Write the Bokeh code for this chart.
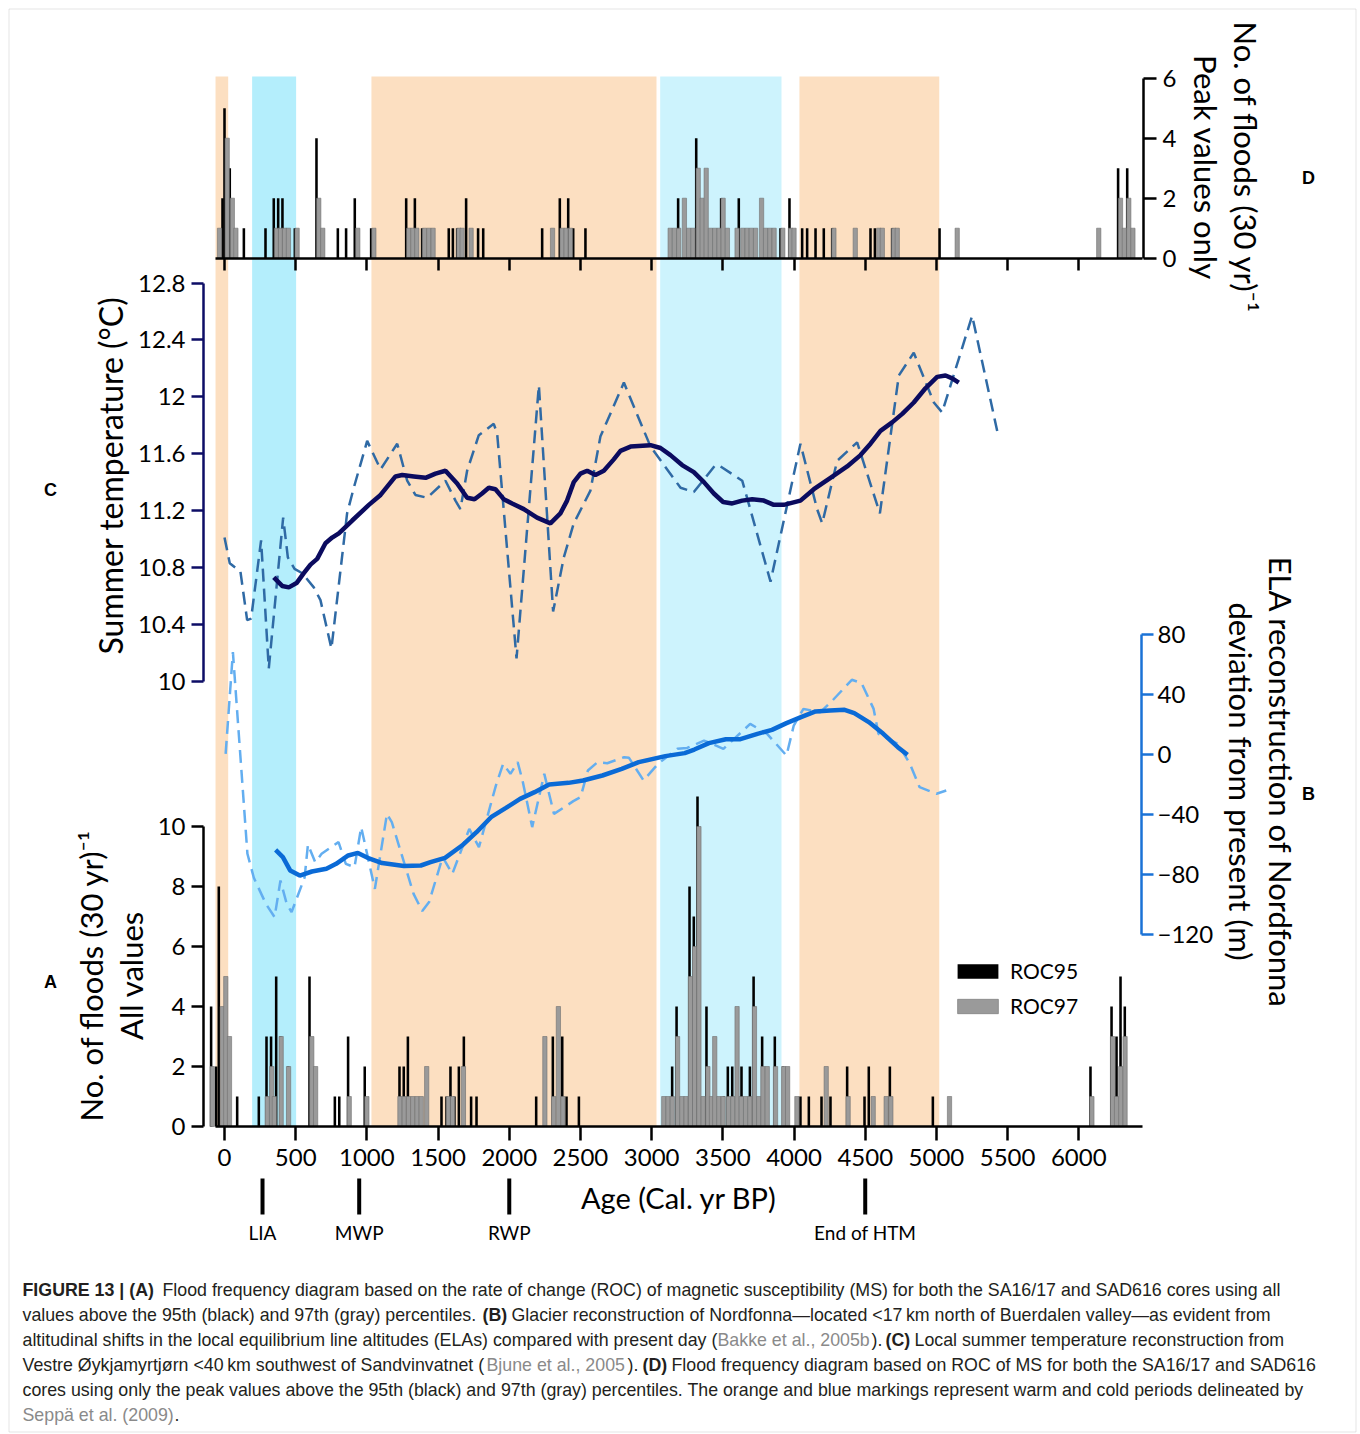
import math
from bokeh.plotting import figure
from bokeh.models import (Range1d, LinearAxis, FixedTicker, CustomJSTickFormatter,
                          ColumnDataSource, Label, Legend, LegendItem, BoxAnnotation)
from bokeh.core.properties import value
from bokeh.embed import file_html
from bokeh.resources import INLINE

# ---------------- data ----------------
# warm (orange) and cold (blue) periods, cal. yr BP
warm_start = [-63, 1032, 4038]
warm_end = [26, 3034, 5020]
cold_start = [194, 3060]
cold_end = [503, 3912]

# Panel A: flood frequency, all values (per 30 yr)
A95_age = [-94, -59, -40, 89, 241, 295, 327, 363, 393, 447, 597, 775, 806, 868, 985,
           1229, 1259, 1288, 1524, 1559, 1587, 1615, 1646, 1681, 1732, 1770, 2189, 2306,
           2372, 2402, 2489, 3144, 3175, 3266, 3296, 3322, 3385, 3507, 3535, 3566, 3631,
           3690, 3716, 3776, 3865, 3923, 4045, 4104, 4193, 4256, 4373, 4495, 4525, 4673,
           4975, 6082, 6230, 6265, 6293, 6323]
A95_n = [4, 2, 8, 1, 1, 3, 3, 5, 3, 2, 5, 1, 1, 3, 2,
         2, 2, 3, 1, 1, 2, 1, 2, 3, 1, 1, 1, 3,
         3, 1, 1, 2, 4, 8, 7, 11, 4, 1, 2, 2, 2,
         2, 5, 3, 3, 2, 1, 1, 1, 1, 2, 1, 2, 2,
         1, 2, 4, 3, 5, 4]
A97_age = [-86, -15, 9, 35, 300, 332, 350, 398, 450, 613, 640, 876, 1000, 1232, 1262,
           1292, 1322, 1352, 1382, 1420, 1572, 1602, 1678, 2250, 2312, 2345, 2377, 3085,
           3115, 3145, 3182, 3212, 3242, 3272, 3302, 3332, 3362, 3395, 3420, 3443, 3472,
           3502, 3540, 3570, 3600, 3630, 3660, 3690, 3722, 3752, 3782, 3812, 3870, 3928,
           3955, 4020, 4226, 4380, 4556, 4647, 4680, 5092, 6092, 6237, 6265, 6295, 6325]
A97_n = [2, 4, 5, 3, 1, 2, 1, 3, 2, 3, 2, 1, 1, 1, 1,
         1, 1, 1, 1, 2, 1, 1, 2, 3, 1, 4, 1, 1,
         1, 1, 3, 1, 1, 5, 6, 10, 1, 2, 1, 3, 1,
         1, 1, 1, 4, 1, 1, 1, 4, 1, 2, 2, 2, 2,
         2, 1, 2, 1, 1, 1, 1, 1, 1, 3, 1, 2, 3]

# Panel D: flood frequency, peak values only (per 30 yr)
D95_age = [-14, 0, 37, 136, 288, 346, 377, 407, 494, 646, 796, 854, 915, 1030, 1276,
           1337, 1388, 1575, 1604, 1634, 1697, 1781, 1817, 2231, 2355, 2414, 2449, 2535,
           3186, 3313, 3488, 3612, 3905, 3968, 4057, 4092, 4151, 4209, 4268, 4537, 4568,
           4689, 5022, 6276, 6340]
D95_n = [2, 5, 3, 1, 1, 2, 2, 2, 1, 4, 1, 1, 2, 1, 2,
         2, 1, 1, 1, 1, 2, 1, 1, 1, 2, 2, 1, 1,
         2, 4, 2, 2, 1, 2, 1, 1, 1, 1, 1, 1, 1,
         1, 1, 3, 3]
D97_age = [-35, 19, 55, 80, 365, 393, 421, 449, 510, 662, 690, 936, 1049, 1294, 1323,
           1351, 1404, 1435, 1465, 1646, 1669, 1732, 2304, 2371, 2399, 2430, 3130, 3160,
           3190, 3230, 3260, 3290, 3327, 3355, 3383, 3413, 3443, 3473, 3502, 3532, 3600,
           3640, 3670, 3700, 3730, 3772, 3800, 3830, 3860, 3921, 3975, 4000, 4280, 4430,
           4595, 4620, 4700, 4725, 5146, 6140, 6293, 6320, 6351, 6380]
D97_n = [1, 4, 2, 1, 1, 1, 1, 1, 1, 2, 1, 1, 1, 1, 1,
         1, 1, 1, 1, 1, 1, 1, 1, 1, 1, 1, 1, 1,
         1, 2, 1, 1, 3, 2, 3, 1, 1, 1, 2, 1, 1,
         1, 1, 1, 1, 2, 1, 1, 1, 1, 1, 1, 1, 1,
         1, 1, 1, 1, 1, 1, 2, 1, 2, 1]

# Panel C: summer temperature (deg C)
C_smooth_age = [346, 405, 452, 506, 557, 604, 651, 709, 756, 803, 897, 1014, 1096, 1201, 1248,
                1330, 1412, 1482, 1552, 1634, 1704, 1756, 1809, 1856, 1903, 1961, 2020, 2102,
                2195, 2289, 2359, 2406, 2453, 2500, 2547, 2605, 2664, 2734, 2781, 2852, 2992,
                3062, 3132, 3214, 3296, 3367, 3437, 3502, 3566, 3636, 3706, 3788, 3858, 3928,
                4045, 4139, 4256, 4373, 4467, 4537, 4607, 4689, 4760, 4841, 4923, 5005, 5064,
                5111, 5157]
C_smooth = [10.73, 10.67, 10.66, 10.69, 10.76, 10.82, 10.86, 10.97, 11.01, 11.04, 11.13, 11.24,
            11.31, 11.44, 11.45, 11.44, 11.43, 11.46, 11.48, 11.39, 11.29, 11.28, 11.32, 11.36,
            11.35, 11.28, 11.25, 11.21, 11.15, 11.11, 11.18, 11.27, 11.40, 11.46, 11.48, 11.45,
            11.48, 11.56, 11.62, 11.65, 11.66, 11.64, 11.59, 11.52, 11.47, 11.40, 11.32, 11.26,
            11.25, 11.27, 11.28, 11.27, 11.24, 11.24, 11.27, 11.35, 11.43, 11.51, 11.59, 11.67,
            11.76, 11.82, 11.88, 11.96, 12.06, 12.14, 12.15, 12.13, 12.10]
C_raw_age = [0, 37, 112, 159, 187, 257, 311, 412, 445, 492, 545, 627, 674, 751, 861, 908, 1002,
             1096, 1213, 1283, 1341, 1423, 1552, 1622, 1657, 1704, 1786, 1891, 1915, 2051, 2208,
             2308, 2383, 2453, 2570, 2640, 2805, 2992, 3203, 3296, 3448, 3484, 3636, 3659, 3835,
             4045, 4162, 4198, 4303, 4443, 4603, 4736, 4841, 4982, 5040, 5251, 5427]
C_raw = [11.01, 10.83, 10.77, 10.43, 10.44, 10.99, 10.09, 11.15, 10.87, 10.79, 10.76, 10.66,
         10.57, 10.23, 11.18, 11.36, 11.69, 11.49, 11.67, 11.41, 11.31, 11.29, 11.41, 11.27,
         11.21, 11.48, 11.73, 11.81, 11.74, 10.16, 12.08, 10.49, 10.87, 11.11, 11.34, 11.72,
         12.10, 11.65, 11.36, 11.33, 11.52, 11.51, 11.41, 11.33, 10.70, 11.67, 11.21, 11.11,
         11.55, 11.68, 11.18, 12.15, 12.31, 11.96, 11.89, 12.57, 11.76]

# Panel B: ELA deviation from present (m)
B_smooth_age = [359, 410, 461, 529, 614, 716, 784, 869, 937, 1005, 1107, 1260, 1379, 1447, 1549,
                1668, 1770, 1872, 1974, 2076, 2178, 2280, 2416, 2518, 2654, 2790, 2909, 3096,
                3232, 3300, 3402, 3521, 3623, 3743, 3845, 3947, 4049, 4151, 4253, 4355, 4423,
                4525, 4627, 4729, 4797]
B_smooth = [-63.6, -68.4, -77.3, -80.7, -78.0, -76.2, -72.9, -67.3, -65.6, -68.9, -72.4, -74.4,
            -74.0, -71.8, -68.9, -60.7, -51.8, -41.8, -35.8, -29.6, -25.1, -20.0, -18.9, -17.3,
            -14.0, -9.6, -5.1, -1.1, 0.9, 3.3, 7.6, 10.2, 10.2, 13.8, 16.4, 20.9, 24.9, 28.7,
            29.3, 29.8, 27.6, 21.6, 13.8, 4.9, -0.2]
B_raw_age = [8, 59, 161, 206, 291, 352, 393, 437, 471, 563, 586, 637, 682, 801, 852, 913, 960,
             1056, 1141, 1175, 1328, 1389, 1437, 1532, 1600, 1719, 1787, 1906, 1957, 2008, 2059,
             2093, 2161, 2246, 2314, 2450, 2501, 2552, 2620, 2688, 2807, 2841, 2943, 3045, 3181,
             3249, 3368, 3504, 3692, 3811, 3947, 3998, 4066, 4185, 4270, 4406, 4474, 4559, 4593,
             4729, 4814, 4882, 5001, 5069]
B_raw = [0.4, 68.2, -66.2, -82.2, -99.6, -108.4, -84.0, -99.6, -105.1, -81.8, -60.0, -71.8,
         -66.2, -58.4, -72.9, -75.1, -48.4, -89.6, -39.6, -45.1, -92.9, -104.4, -98.4, -68.4,
         -79.6, -49.6, -61.8, -20.7, -6.2, -12.9, -5.1, -17.3, -48.4, -12.9, -39.6, -31.1,
         -28.4, -10.7, -5.1, -5.8, -1.8, -2.2, -17.3, -6.2, 3.8, 4.4, 9.3, 3.8, 20.4, 13.8,
         -0.7, 19.3, 30.4, 28.2, 36.0, 49.8, 47.6, 30.4, 13.8, 7.1, -6.2, -21.8, -26.2, -24.0]

# climate periods marked under the age axis
period_names = ["LIA", "MWP", "RWP", "End of HTM"]
period_ages = [267, 946, 2000, 4500]

# tick values
age_ticks = list(range(0, 6001, 500))
A_ticks = [0, 2, 4, 6, 8, 10]
C_ticks = [10, 10.4, 10.8, 11.2, 11.6, 12, 12.4, 12.8]
B_ticks = [-120, -80, -40, 0, 40, 80]
D_ticks = [0, 2, 4, 6]

# ---------------- layout calibration (pixels) ----------------
W, H = 1360, 1434
PX0, PXYR = 224.0, 854.3 / 6000.0          # x pixel of age 0, pixels per year
PL, PR, PT = 215, 1142, 76                 # plotted area edges
A0, A_S = 1126.0, 30.0                     # panel A: zero pixel, px per flood
C10, C_S = 680.7, 142.2                    # panel C: 10 degC pixel, px per degC
B0, B_S = 754.0, 1.5                       # panel B: zero pixel, px per m
D0, D_S = 257.7, 30.0                      # panel D: zero pixel, px per flood


def px2x(px):
    return (px - PX0) / PXYR


def px2y(py):
    return (A0 - py) / A_S


# the frame covers the whole canvas; every axis sits at a fixed location
p = figure(width=W, height=H, title=None,
           x_range=Range1d(px2x(0), px2x(W)),
           y_range=Range1d(px2y(H), px2y(0)),
           x_axis_type=None, y_axis_type=None,
           output_backend="svg", toolbar_location=None,
           min_border_left=0, min_border_right=0, min_border_top=0, min_border_bottom=0,
           outline_line_color=None, background_fill_color="white",
           border_fill_color="white")

p.extra_y_ranges = {
    "C": Range1d(10 + (C10 - H) / C_S, 10 + C10 / C_S),
    "B": Range1d((B0 - H) / B_S, B0 / B_S),
    "D": Range1d((D0 - H) / D_S, D0 / D_S),
}

# ---------------- period bands ----------------
band_src = ColumnDataSource(dict(
    left=warm_start + cold_start,
    right=warm_end + cold_end,
    color=["#fcdfc1"] * len(warm_start) + ["#b4eefc", "#cdf3fd"],
))
p.quad(left="left", right="right", bottom=0, top=px2y(PT), source=band_src,
       fill_color="color", line_color=None)

# ---------------- bars ----------------
BLACK, GREY = "#000000", "#9a9a9a"
rA95 = p.vbar(x=A95_age, top=A95_n, bottom=0, width=18, fill_color=BLACK, line_color=None)
rA97 = p.vbar(x=A97_age, top=A97_n, bottom=0, width=30, fill_color=GREY,
              line_color="#707070", line_width=0.6)
p.vbar(x=D95_age, top=D95_n, bottom=0, width=18, fill_color=BLACK, line_color=None,
       y_range_name="D")
p.vbar(x=D97_age, top=D97_n, bottom=0, width=30, fill_color=GREY, line_color="#707070",
       line_width=0.6, y_range_name="D")

# ---------------- lines ----------------
p.line(C_raw_age, C_raw, y_range_name="C", line_color="#2f6aa5", line_width=2.5,
       line_dash="13 7")
p.line(C_smooth_age, C_smooth, y_range_name="C", line_color="#0b0b5f", line_width=4.5)
p.line(B_raw_age, B_raw, y_range_name="B", line_color="#63aef0", line_width=2.5,
       line_dash="13 7")
p.line(B_smooth_age, B_smooth, y_range_name="B", line_color="#0a6ad6", line_width=4.5)

# ---------------- period markers ----------------
per_src = ColumnDataSource(dict(age=period_ages, name=period_names))
p.segment(x0="age", x1="age", y0=px2y(1178), y1=px2y(1214), source=per_src,
          line_color="black", line_width=4)
p.text(x="age", y=px2y(1232), text="name", source=per_src, text_font=value("Lato"),
       text_font_size="19px", text_align="center", text_baseline="middle",
       text_color="black")


# ---------------- axes ----------------
def style_axis(ax, color, tick_out=12, standoff=6):
    ax.axis_line_color = color
    ax.axis_line_width = 2.5
    ax.major_tick_line_color = color
    ax.major_tick_line_width = 2.5
    ax.major_tick_out = tick_out
    ax.major_tick_in = 0
    ax.minor_tick_line_color = None
    ax.major_label_text_color = "black"
    ax.major_label_text_font = "Lato"
    ax.major_label_text_font_size = "24px"
    ax.major_label_standoff = standoff


x_bounds = (px2x(PL), px2x(PR))

ax_age = LinearAxis(ticker=FixedTicker(ticks=age_ticks), fixed_location=0, bounds=x_bounds,
                    axis_label="Age (Cal. yr BP)")
style_axis(ax_age, "black", tick_out=14, standoff=8)
ax_age.axis_label_text_font = "Lato"
ax_age.axis_label_text_font_size = "29px"
ax_age.axis_label_text_font_style = "normal"
ax_age.axis_label_text_color = "black"
ax_age.axis_label_standoff = 11
p.add_layout(ax_age, "below")

ax_dx = LinearAxis(ticker=FixedTicker(ticks=age_ticks), y_range_name="D", fixed_location=0,
                   bounds=x_bounds, formatter=CustomJSTickFormatter(code="return ''"))
style_axis(ax_dx, "black", tick_out=12)
p.add_layout(ax_dx, "below")

ax_A = LinearAxis(ticker=FixedTicker(ticks=A_ticks), bounds=(0, 10), fixed_location=px2x(203))
style_axis(ax_A, "black")
p.add_layout(ax_A, "left")

ax_C = LinearAxis(ticker=FixedTicker(ticks=C_ticks), y_range_name="C", bounds=(10, 12.8),
                  fixed_location=px2x(203),
                  formatter=CustomJSTickFormatter(code="return String(Math.round(tick*10)/10)"))
style_axis(ax_C, "#0d0d66")
p.add_layout(ax_C, "left")

ax_B = LinearAxis(ticker=FixedTicker(ticks=B_ticks), y_range_name="B", bounds=(-120, 80),
                  fixed_location=px2x(1141))
style_axis(ax_B, "#1a72d6", standoff=4)
p.add_layout(ax_B, "right")

ax_D = LinearAxis(ticker=FixedTicker(ticks=D_ticks), y_range_name="D", bounds=(0, 6),
                  fixed_location=px2x(1143))
style_axis(ax_D, "black", tick_out=13, standoff=6)
p.add_layout(ax_D, "right")

# ---------------- legend ----------------
legend = Legend(items=[LegendItem(label="ROC95", renderers=[rA95]),
                       LegendItem(label="ROC97", renderers=[rA97])],
                location=(952, H - 1018), orientation="vertical",
                glyph_width=51, glyph_height=18, label_height=18, label_standoff=7,
                spacing=10, padding=0, margin=0, border_line_color=None,
                background_fill_alpha=0, label_text_font="Lato",
                label_text_font_size="21px", label_text_color="black")
p.add_layout(legend)


# ---------------- texts ----------------
def lab(text, px, py, size, angle=0.0, font="Lato", style="normal", color="black",
        align="center"):
    p.add_layout(Label(x=px2x(px), y=px2y(py), text=text, text_font=font,
                       text_font_size=size, text_font_style=style, text_color=color,
                       text_align=align, text_baseline="middle", angle=angle))


UP, DOWN = math.pi / 2, -math.pi / 2
TITLE = "31px"
lab("Summer temperature (\u00b0C)", 110, 475, "32px", UP)
lab("No. of floods (30 yr)\u207b\u00b9", 90, 975, TITLE, UP)
lab("All values", 130, 975, TITLE, UP)
lab("No. of floods (30 yr)\u207b\u00b9", 1245, 167, TITLE, DOWN)
lab("Peak values only", 1205, 167, TITLE, DOWN)
lab("ELA reconstruction of Nordfonna", 1280, 782, TITLE, DOWN)
lab("deviation from present (m)", 1240, 781, TITLE, DOWN)

for t, x, y in [("D", 1308, 177), ("C", 50, 489), ("B", 1308, 793), ("A", 50, 981)]:
    lab(t, x, y, "18px", font="Liberation Sans", style="bold")

CAP = "#231f20"
REF = "#8a8a8a"
CAP_SIZE = "17.8px"
cap_runs = [
    ("FIGURE 13 | (A)", 22, 1289, "bold", CAP),
    ("Flood frequency diagram based on the rate of change (ROC) of magnetic susceptibility (MS) "
     "for both the SA16/17 and SAD616 cores using all", 162, 1289, "normal", CAP),
    ("values above the 95th (black) and 97th (gray) percentiles.", 22, 1314, "normal", CAP),
    ("(B)", 482, 1314, "bold", CAP),
    ("Glacier reconstruction of Nordfonna\u2014located <17\u2009km north of Buerdalen "
     "valley\u2014as evident from", 511, 1314, "normal", CAP),
    ("altitudinal shifts in the local equilibrium line altitudes (ELAs) compared with present "
     "day (", 22, 1339, "normal", CAP),
    ("Bakke et al., 2005b", 717, 1339, "normal", REF),
    (").", 871, 1339, "normal", CAP),
    ("(C)", 885, 1339, "bold", CAP),
    ("Local summer temperature reconstruction from", 914, 1339, "normal", CAP),
    ("Vestre \u00d8ykjamyrtj\u00f8rn <40\u2009km southwest of Sandvinvatnet (", 22, 1364,
     "normal", CAP),
    ("Bjune et al., 2005", 486, 1364, "normal", REF),
    (").", 627, 1364, "normal", CAP),
    ("(D)", 642, 1364, "bold", CAP),
    ("Flood frequency diagram based on ROC of MS for both the SA16/17 and SAD616", 671, 1364,
     "normal", CAP),
    ("cores using only the peak values above the 95th (black) and 97th (gray) percentiles. "
     "The orange and blue markings represent warm and cold periods delineated by", 22, 1389,
     "normal", CAP),
    ("Sepp\u00e4 et al. (2009)", 22, 1414, "normal", REF),
    (".", 174, 1414, "normal", CAP),
]
for text, x, y, style, color in cap_runs:
    lab(text, x, y, CAP_SIZE, font="Liberation Sans", style=style, color=color, align="left")

# thin frame around the whole figure
p.add_layout(BoxAnnotation(left=px2x(8.5), right=px2x(1355.5), top=px2y(8.5),
                           bottom=px2y(1431.5), fill_color=None, fill_alpha=0,
                           line_color="#a8a8a8", line_width=1))

open("out.html", "w").write(file_html(p, INLINE))
